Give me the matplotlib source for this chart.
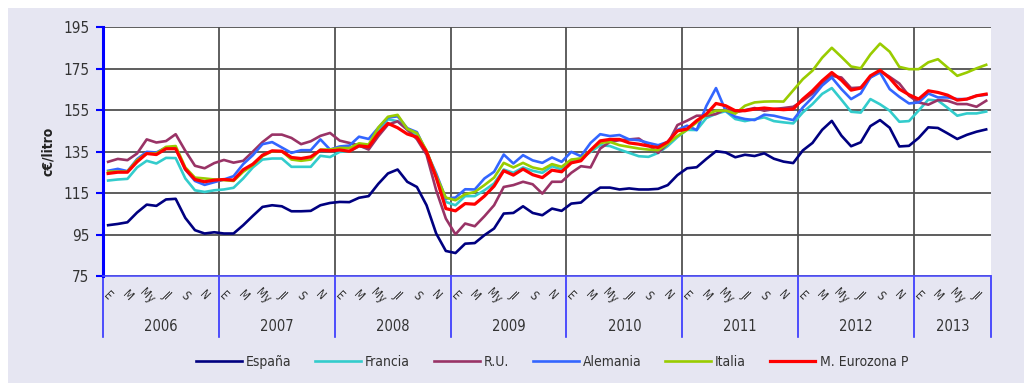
import matplotlib
matplotlib.use('Agg')
import matplotlib.pyplot as plt
import matplotlib.transforms as mtransforms
from matplotlib.patches import Rectangle

plt.rcParams['font.family'] = ['DejaVu Sans']
plt.rcParams['font.stretch'] = 'condensed'

# precios mensuales (c€/litro), enero 2006 - agosto 2013
espana = [99.6, 100.2, 101, 105.7, 109.5, 108.9, 112, 112.3, 103.1, 97.2, 95.6, 96.2,
          95.6, 95.6, 99.6, 104.1, 108.4, 109.2, 108.7, 106.3, 106.3, 106.5, 109.2, 110.3,
          110.8, 110.7, 112.8, 113.6, 119.5, 124.5, 126.4, 120.5, 118, 109.2, 95.6, 87.2,
          86.2, 90.7, 91, 94.8, 98, 105.2, 105.5, 108.7, 105.5, 104.4, 107.6, 106.5,
          110, 110.5, 114.5, 117.7, 117.7, 116.8, 117.3, 116.8, 116.8, 117.1, 118.9, 123.7,
          127, 127.5, 131.5, 135.2, 134.6, 132.3, 133.5, 132.9, 134.2, 131.6, 130.2, 129.5,
          135.6, 139.2, 145.5, 149.8, 142.7, 137.6, 139.5, 147.3, 150.2, 146.5, 137.5, 137.8,
          141.6, 146.7, 146.4, 143.8, 141.1, 143.1, 144.6, 145.7]
francia = [121.1, 121.6, 121.9, 127.4, 130.6, 129.3, 132, 131.9, 122.1, 116.4, 115.6, 116.4,
           116.8, 117.6, 122.1, 127.4, 131.2, 131.7, 131.7, 127.7, 127.7, 127.7, 133, 132.4,
           134.9, 135.2, 137.6, 136.8, 144.5, 150.6, 149.6, 145.6, 142.4, 135.2, 122.9, 110.8,
           109.2, 113.6, 113.6, 116.4, 119.7, 126.4, 124.8, 127.4, 125.8, 124.8, 128, 126.4,
           130.9, 131.7, 134.9, 138.1, 137.7, 136, 134.4, 132.8, 132.5, 134.4, 137.7, 142,
           145.5, 145.4, 151.2, 153.2, 154.5, 150.7, 149.7, 150.6, 151.5, 149.7, 149.1, 148.6,
           153.9, 157.9, 162.8, 165.6, 160, 154.2, 153.8, 160.3, 157.8, 154.7, 149.4, 149.7,
           154.8, 160, 159.6, 156.1, 152.3, 153.4, 153.4, 154.3]
ru = [130.1, 131.5, 130.9, 134.1, 140.9, 139.4, 140.1, 143.4, 135.4, 128.2, 127, 129.5,
      131, 129.7, 130.6, 135, 139.6, 143.2, 143.2, 141.6, 138.6, 140, 142.6, 144,
      140.3, 139.2, 138, 136, 142.4, 148, 149.6, 145.6, 141, 133.5, 116.4, 102.8,
      95.2, 100.4, 99.1, 103.9, 109.2, 118, 118.9, 120.5, 119.3, 114.8, 120.5, 120.5,
      124.8, 128, 127.4, 136.5, 139.7, 140.5, 140.9, 141.3, 138.1, 134.4, 138.9, 147.8,
      149.9, 152.3, 152.3, 153.1, 155.5, 153.9, 155, 156, 154.7, 155.5, 156, 156.6,
      159.5, 163, 167.5, 171.5, 170.7, 165.6, 165.9, 170.7, 173.9, 171, 167.8, 161.9,
      158.7, 157.6, 159.8, 159.5, 157.9, 157.9, 156.6, 159.5]
alemania = [125.8, 126.7, 125.6, 131.4, 134.9, 134.6, 137, 136.8, 126.4, 120.9, 119, 120.3,
            121.6, 123.2, 129, 133.3, 138.6, 139.6, 137, 134.4, 135.7, 135.7, 140.9, 136,
            137.5, 137.9, 142.2, 141.1, 146.5, 151.4, 152, 146.3, 144.4, 134.9, 124.5, 112.4,
            112.9, 116.9, 116.8, 122.1, 125.3, 133.6, 129.3, 133.3, 130.8, 129.6, 132.2, 130.1,
            134.9, 132.8, 139.2, 143.4, 142.5, 143, 140.9, 140.5, 139.2, 138.1, 139.7, 145.4,
            147.5, 145.4, 157, 165.6, 154.7, 151.8, 150.7, 150.2, 152.8, 152.3, 151.2, 150.2,
            156.3, 161.1, 166.8, 170.7, 165.1, 160.3, 163, 170.7, 173.1, 165.1, 161.4, 158.2,
            158.7, 163, 161.1, 161.1, 160.3, 160.3, 161.9, 162.4]
italia = [125.4, 125.4, 125.4, 130.9, 134.1, 134.1, 137.3, 137.7, 127.4, 122.5, 122.1, 121.6,
          121.3, 120.9, 125.3, 128.5, 132.8, 135.2, 135.2, 131.2, 130.6, 131.2, 136, 136,
          136.8, 136.7, 139, 138.4, 146.6, 151.8, 152.7, 146, 143.9, 135.5, 123.5, 112.9,
          111.6, 114.5, 115.6, 118.9, 122.5, 129.6, 127.4, 129.6, 127.4, 126.4, 129, 127.7,
          131.2, 131.7, 135.7, 139.2, 139.7, 138.1, 137.3, 136.5, 136, 135.7, 138.9, 142.5,
          145.5, 149.1, 152.8, 154.7, 154.8, 153.3, 157.1, 158.7, 159.1, 159.2, 159.1, 164.5,
          169.9, 174, 180.2, 185, 180.6, 176, 175.1, 181.8, 187, 183.1, 175.8, 174.7,
          174.7, 178, 179.5, 175.5, 171.5, 173.1, 175.1, 176.8]
eurozona = [124.5, 125.1, 125.1, 130.1, 134.1, 133.6, 136.4, 136.4, 126.6, 121.6, 120.5, 121.3,
            121.6, 121.3, 126.3, 129, 133.3, 135.4, 135.2, 132.2, 131.7, 132.5, 135.7, 135.4,
            135.8, 135.2, 137.8, 137.3, 143.8, 148.6, 146.5, 143.5, 142, 134.9, 122.5, 107.6,
            106.5, 110, 109.7, 113.6, 118.4, 125.8, 123.7, 126.6, 123.9, 122.5, 126.1, 125.3,
            129.6, 130.6, 135.7, 140.2, 140.9, 140.9, 139.2, 138.6, 137.7, 137, 139.7, 145,
            145.9, 149.9, 153.1, 158.2, 157.1, 154.7, 154.7, 155.5, 156, 155.5, 155.2, 155.5,
            160.3, 164.3, 169.1, 173.1, 169.4, 164.6, 165.6, 171.5, 174.2, 170.4, 165.1, 162.4,
            160.3, 164.3, 163.5, 162.2, 159.8, 160.3, 161.9, 162.7]

years = ['2006', '2007', '2008', '2009', '2010', '2011', '2012', '2013']
months_per_year = [12, 12, 12, 12, 12, 12, 12, 8]
month_labels = ['E', 'M', 'My', 'Jl', 'S', 'N']

series = [
    ('España', espana, '#000080', 1.9),
    ('Francia', francia, '#33CCCC', 1.9),
    ('R.U.', ru, '#993366', 1.9),
    ('Alemania', alemania, '#3366FF', 1.9),
    ('Italia', italia, '#99CC00', 1.9),
    ('M. Eurozona P', eurozona, '#FF0000', 2.3),
]

fig = plt.figure(figsize=(10.24, 3.83), dpi=100)
fig.patch.set_facecolor('white')
# fondo lila del grafico
fig.patches.append(Rectangle((8 / 1024, 0), 1 - 8 / 1024, 1 - 8 / 383,
                             transform=fig.transFigure, facecolor='#E6E6F2',
                             edgecolor='none', zorder=-10))

ax = fig.add_axes([103.3 / 1024, (383 - 276.3) / 383, (991 - 103.3) / 1024, (276.3 - 27) / 383])
ax.set_facecolor('white')

n = len(espana)
x = list(range(n))
for name, vals, color, lw in series:
    ax.plot(x, vals, color=color, lw=lw, label=name, zorder=3)

ax.set_xlim(-0.5, n - 0.5)
ax.set_ylim(75, 195)
ax.set_yticks(range(75, 196, 20))
ax.yaxis.grid(True, color='#505050', lw=1.3, zorder=1)
ax.tick_params(axis='y', colors='#0000FF', length=5, width=1.5, pad=5,
               labelcolor='#333333', labelsize=11)
ax.set_xticks([])

for s in ['top', 'right']:
    ax.spines[s].set_visible(False)
ax.spines['left'].set_color('#0000FF')
ax.spines['left'].set_linewidth(2.2)
ax.spines['bottom'].set_color('#4D4DFF')
ax.spines['bottom'].set_linewidth(1.2)

ax.set_ylabel('c€/litro', fontweight='bold', fontsize=10, color='#222222')
ax.yaxis.set_label_coords(-0.054, 0.5)

trans = mtransforms.blended_transform_factory(ax.transData, ax.transAxes)

# etiquetas de meses, años y separadores
start = 0
bounds = [-0.5]
for yr, nm in zip(years, months_per_year):
    for k in range(0, nm, 2):
        ax.text(start + k, -0.078, month_labels[k // 2], transform=trans, rotation=-45,
                ha='center', va='center', fontsize=8.5, color='#333333')
    ax.text(start + (nm - 1) / 2, -0.2, yr, transform=trans, ha='center', va='center',
            fontsize=10.5, color='#333333')
    start += nm
    bounds.append(start - 0.5)

for b in bounds:
    ax.plot([b, b], [0, -0.245], transform=trans, color='#3333FF', lw=1.2, clip_on=False)
    if 0 < b < n - 1:
        ax.axvline(b, color='#333333', lw=1.1, zorder=1)

fig.legend(loc='center', bbox_to_anchor=(0.539, 0.055), ncol=6, frameon=False,
           fontsize=10, handlelength=3.3, handletextpad=0.3, columnspacing=1.7,
           labelcolor='#333333')

fig.savefig('out.png', dpi=100)
